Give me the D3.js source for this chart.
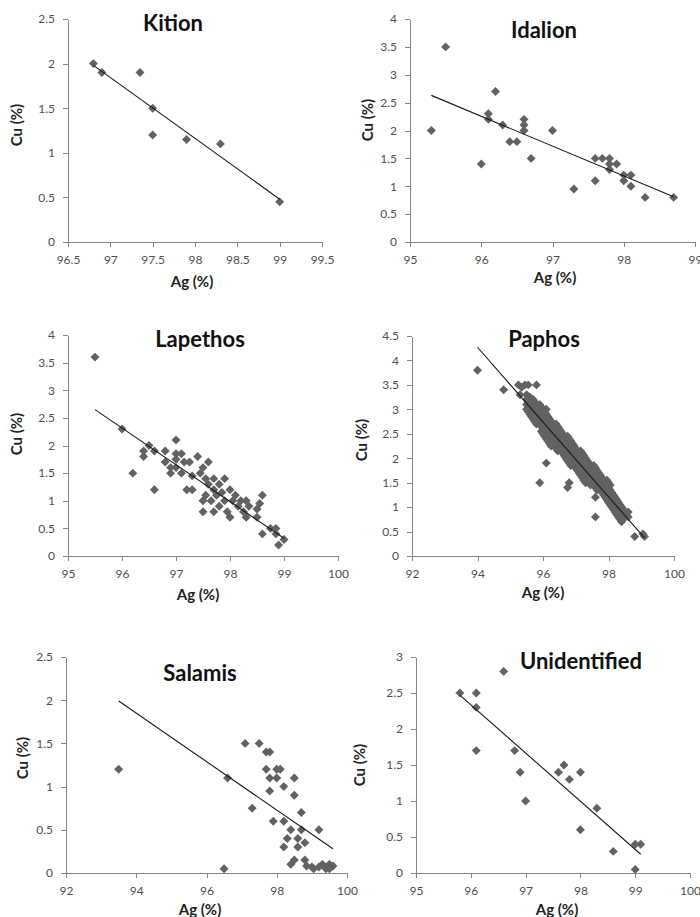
<!DOCTYPE html>
<html>
<head>
<meta charset="utf-8">
<script src="https://cdn.jsdelivr.net/npm/d3@7"></script>
<style>
  body { margin: 0; background: #fff; }
  svg { display: block; font-family: Lato, "Open Sans", sans-serif; }
  .axis path, .axis line { stroke: #868686; shape-rendering: crispEdges; }
  .axis text { fill: #505050; font-size: 12px; font-family: Lato, "Open Sans", sans-serif; }
  .title { font-size: 22px; font-weight: bold; fill: #111; }
  .alabel { font-size: 15px; font-weight: bold; fill: #222; }
</style>
</head>
<body>
<svg id="chart" width="700" height="917"></svg>
<script>

// Ag (%) , Cu (%)
var kition = [[96.8,2.0],[96.9,1.9],[97.35,1.9],[97.5,1.5],[97.5,1.2],[97.9,1.15],[98.3,1.1],[99.0,0.45]];
var kitionTrend = [[96.8,1.98],[99.0,0.48]];

var idalion = [[95.3,2.0],[95.5,3.5],[96.0,1.4],[96.1,2.3],[96.1,2.2],[96.2,2.7],[96.3,2.1],
  [96.4,1.8],[96.5,1.8],[96.6,2.2],[96.6,2.1],[96.6,2.0],[96.7,1.5],[97.0,2.0],[97.3,0.95],
  [97.6,1.5],[97.6,1.1],[97.7,1.5],[97.8,1.5],[97.8,1.4],[97.8,1.3],[97.9,1.4],[98.0,1.2],
  [98.0,1.1],[98.1,1.2],[98.1,1.0],[98.3,0.8],[98.7,0.8]];
var idalionTrend = [[95.3,2.63],[98.7,0.81]];

var lapethos = [[95.5,3.6],[96.0,2.3],[96.2,1.5],[96.4,1.9],[96.4,1.8],[96.5,2.0],[96.6,1.9],
  [96.6,1.2],[96.8,1.9],[96.8,1.7],[96.9,1.5],[96.9,1.6],[97.0,2.1],[97.0,1.85],[97.0,1.6],
  [97.0,1.75],[97.1,1.85],[97.1,1.5],[97.15,1.7],[97.25,1.7],[97.2,1.2],[97.3,1.2],[97.3,1.45],
  [97.4,1.8],[97.45,1.5],[97.5,1.6],[97.55,1.4],[97.55,1.1],[97.5,1.0],[97.5,0.8],[97.6,1.7],
  [97.6,1.3],[97.65,1.0],[97.7,1.4],[97.7,0.8],[97.7,1.2],[97.75,1.1],[97.8,1.3],[97.8,0.9],
  [97.85,1.15],[97.9,1.4],[97.9,1.0],[97.95,0.8],[98.0,1.2],[98.0,0.7],[98.05,1.0],[98.1,1.1],
  [98.15,0.9],[98.2,1.0],[98.25,0.8],[98.3,1.0],[98.3,0.7],[98.35,0.9],[98.5,0.85],[98.5,0.7],
  [98.55,0.95],[98.6,1.1],[98.6,0.4],[98.75,0.5],[98.85,0.4],[98.85,0.5],[98.9,0.2],[99.0,0.3]];
var lapethosTrend = [[95.5,2.65],[99.0,0.32]];

// Paphos: dense band, one row per Ag value with the Cu values in that column
var paphosCols = [
  [95.50,[3.0,3.1,3.2,3.3]],
  [95.55,[2.95,3.05,3.15,3.25]],
  [95.60,[2.9,3.0,3.1,3.2]],
  [95.65,[2.85,2.95,3.05,3.15]],
  [95.70,[2.8,2.9,3.0,3.1,3.2]],
  [95.75,[2.75,2.85,2.95,3.05,3.15]],
  [95.80,[2.7,2.8,2.9,3.0,3.1]],
  [95.85,[2.75,2.85,2.95,3.05]],
  [95.90,[2.7,2.8,2.9,3.0,3.1]],
  [95.95,[2.55,2.65,2.75,2.85,2.95,3.05]],
  [96.00,[2.5,2.6,2.7,2.8,2.9,3.0]],
  [96.05,[2.45,2.55,2.65,2.75,2.85,2.95]],
  [96.10,[2.4,2.5,2.6,2.7,2.8,2.9,3.0]],
  [96.15,[2.35,2.45,2.55,2.65,2.75,2.85]],
  [96.20,[2.3,2.4,2.5,2.6,2.7,2.8]],
  [96.25,[2.25,2.35,2.45,2.55,2.65,2.75]],
  [96.30,[2.3,2.4,2.5,2.6,2.7]],
  [96.35,[2.25,2.35,2.45,2.55,2.65]],
  [96.40,[2.2,2.3,2.4,2.5,2.6,2.7]],
  [96.45,[2.15,2.25,2.35,2.45,2.55,2.65]],
  [96.50,[2.2,2.3,2.4,2.5,2.6]],
  [96.55,[2.15,2.25,2.35,2.45,2.55]],
  [96.60,[2.1,2.2,2.3,2.4,2.5]],
  [96.65,[2.05,2.15,2.25,2.35,2.45]],
  [96.70,[2.0,2.1,2.2,2.3,2.4]],
  [96.75,[1.95,2.05,2.15,2.25,2.35,2.45]],
  [96.80,[1.9,2.0,2.1,2.2,2.3,2.4]],
  [96.85,[1.85,1.95,2.05,2.15,2.25,2.35]],
  [96.90,[1.9,2.0,2.1,2.2,2.3]],
  [96.95,[1.85,1.95,2.05,2.15,2.25]],
  [97.00,[1.8,1.9,2.0,2.1,2.2]],
  [97.05,[1.75,1.85,1.95,2.05,2.15]],
  [97.10,[1.7,1.8,1.9,2.0,2.1]],
  [97.15,[1.65,1.75,1.85,1.95,2.05,2.15]],
  [97.20,[1.6,1.7,1.8,1.9,2.0,2.1]],
  [97.25,[1.55,1.65,1.75,1.85,1.95,2.05]],
  [97.30,[1.5,1.6,1.7,1.8,1.9,2.0]],
  [97.35,[1.55,1.65,1.75,1.85,1.95]],
  [97.40,[1.5,1.6,1.7,1.8,1.9]],
  [97.45,[1.45,1.55,1.65,1.75,1.85]],
  [97.50,[1.5,1.6,1.7,1.8]],
  [97.55,[1.45,1.55,1.65,1.75,1.85]],
  [97.60,[1.4,1.5,1.6,1.7,1.8]],
  [97.65,[1.35,1.45,1.55,1.65,1.75]],
  [97.70,[1.4,1.5,1.6,1.7]],
  [97.75,[1.35,1.45,1.55,1.65]],
  [97.80,[1.3,1.4,1.5,1.6]],
  [97.85,[1.25,1.35,1.45,1.55]],
  [97.90,[1.2,1.3,1.4,1.5]],
  [97.95,[1.15,1.25,1.35,1.45,1.55]],
  [98.00,[1.1,1.2,1.3,1.4,1.5]],
  [98.05,[1.05,1.15,1.25,1.35,1.45]],
  [98.10,[1.0,1.1,1.2,1.3]],
  [98.15,[0.95,1.05,1.15,1.25]],
  [98.20,[0.9,1.0,1.1,1.2]],
  [98.25,[0.85,0.95,1.05,1.15]],
  [98.30,[0.8,0.9,1.0,1.1]],
  [98.35,[0.75,0.85,0.95,1.05]],
  [98.40,[0.7,0.8,0.9,1.0]],
  [98.45,[0.75,0.85,0.95]],
  [98.50,[0.8,0.9]],
  [98.60,[0.8,0.9]]
];
var paphosOut = [[94.0,3.8],[94.8,3.4],[95.25,3.5],[95.3,3.3],[95.35,3.45],[95.45,3.5],
  [95.55,3.5],[95.8,3.5],[95.6,3.25],[95.9,1.5],[96.1,1.9],[96.75,1.4],[96.8,1.5],
  [97.6,0.8],[97.6,1.2],[98.8,0.4],[99.05,0.45],[99.1,0.4]];
var paphosTrend = [[94.0,4.27],[99.1,0.37]];

var salamis = [[93.5,1.2],[96.5,0.05],[96.6,1.1],[97.1,1.5],[97.3,0.75],[97.5,1.5],[97.7,1.4],
  [97.8,1.4],[97.7,1.2],[97.8,1.1],[97.8,0.95],[97.9,0.6],[98.0,1.2],[98.1,1.2],[98.0,1.1],
  [98.2,1.0],[98.2,0.6],[98.2,0.3],[98.3,0.4],[98.4,0.5],[98.4,0.1],[98.5,1.1],[98.5,0.9],
  [98.5,0.15],[98.6,0.4],[98.6,0.3],[98.7,0.7],[98.7,0.5],[98.8,0.35],[98.8,0.15],[98.85,0.08],
  [99.0,0.07],[99.05,0.05],[99.2,0.5],[99.2,0.07],[99.3,0.1],[99.4,0.05],[99.5,0.1],
  [99.6,0.08],[99.5,0.05]];
var salamisTrend = [[93.5,1.99],[99.6,0.28]];

var unidentified = [[95.8,2.5],[96.1,2.5],[96.1,2.3],[96.1,1.7],[96.6,2.8],[96.8,1.7],[96.9,1.4],
  [97.0,1.0],[97.6,1.4],[97.7,1.5],[97.8,1.3],[98.0,1.4],[98.0,0.6],[98.3,0.9],[98.6,0.3],
  [99.0,0.4],[99.1,0.4],[99.0,0.05]];
var unidentifiedTrend = [[95.8,2.47],[99.1,0.26]];

var titles = ["Kition", "Idalion", "Lapethos", "Paphos", "Salamis", "Unidentified"];
var xTicks = [
  [96.5,97,97.5,98,98.5,99,99.5],
  [95,96,97,98,99],
  [95,96,97,98,99,100],
  [92,94,96,98,100],
  [92,94,96,98,100],
  [95,96,97,98,99,100]
];
var yTicks = [
  [0,0.5,1,1.5,2,2.5],
  [0,0.5,1,1.5,2,2.5,3,3.5,4],
  [0,0.5,1,1.5,2,2.5,3,3.5,4],
  [0,0.5,1,1.5,2,2.5,3,3.5,4,4.5],
  [0,0.5,1,1.5,2,2.5],
  [0,0.5,1,1.5,2,2.5,3]
];

var paphos = [];
paphosCols.forEach(function(c) {
  c[1].forEach(function(v) { paphos.push([c[0], v]); });
});
paphos = paphos.concat(paphosOut);

var seriesList = [kition, idalion, lapethos, paphos, salamis, unidentified];
var trendList = [kitionTrend, idalionTrend, lapethosTrend, paphosTrend, salamisTrend, unidentifiedTrend];

// plot boxes and label spots, in page pixels
var layout = [
  {l: 68,  r: 322, t: 19,  b: 242, tx: 173, ty: 31,  cx: 17,  cy: 125, ax: 192, ay: 287},
  {l: 410, r: 695, t: 19,  b: 242, tx: 544, ty: 38,  cx: 368, cy: 120, ax: 555, ay: 283},
  {l: 68,  r: 338, t: 335, b: 556, tx: 200, ty: 347, cx: 17,  cy: 434, ax: 198, ay: 600},
  {l: 412, r: 674, t: 336, b: 556, tx: 544, ty: 347, cx: 362, cy: 440, ax: 543, ay: 598},
  {l: 66,  r: 347, t: 657, b: 873, tx: 200, ty: 681, cx: 23,  cy: 758, ax: 200, ay: 915},
  {l: 416, r: 690, t: 657, b: 873, tx: 581, ty: 669, cx: 360, cy: 765, ax: 557, ay: 915}
];

var svg = d3.select("#chart");
var diamond = d3.symbol().type(d3.symbolSquare).size(40);

var Render = function(i) {
  var p = layout[i];
  var xt = xTicks[i], yt = yTicks[i];

  var x = d3.scaleLinear().domain([xt[0], xt[xt.length - 1]]).range([p.l, p.r]);
  var y = d3.scaleLinear().domain([yt[0], yt[yt.length - 1]]).range([p.b, p.t]);

  var g = svg.append("g");

  g.append("g")
    .attr("class", "axis")
    .attr("transform", "translate(" + p.l + ",0)")
    .call(d3.axisLeft(y).tickValues(yt).tickSize(5).tickSizeOuter(0).tickPadding(8)
      .tickFormat(function(d) { return String(d); }));

  g.append("g")
    .attr("class", "axis")
    .attr("transform", "translate(0," + p.b + ")")
    .call(d3.axisBottom(x).tickValues(xt).tickSize(5).tickSizeOuter(0).tickPadding(8)
      .tickFormat(function(d) { return String(d); }));

  g.selectAll("path.pt")
    .data(seriesList[i])
  .enter().append("path")
    .attr("class", "pt")
    .attr("d", diamond)
    .attr("transform", function(d) { return "translate(" + x(d[0]) + "," + y(d[1]) + ") rotate(45)"; })
    .attr("fill", "#626262");

  g.append("path")
    .datum(trendList[i])
    .attr("d", d3.line().x(function(d) { return x(d[0]); }).y(function(d) { return y(d[1]); }))
    .attr("fill", "none")
    .attr("stroke", "#1a1a1a")
    .attr("stroke-width", 1.1);

  g.append("text")
    .attr("class", "title")
    .attr("x", p.tx).attr("y", p.ty)
    .attr("text-anchor", "middle")
    .text(titles[i]);

  g.append("text")
    .attr("class", "alabel")
    .attr("x", p.ax).attr("y", p.ay)
    .attr("text-anchor", "middle")
    .text("Ag (%)");

  g.append("text")
    .attr("class", "alabel")
    .attr("transform", "translate(" + p.cx + "," + p.cy + ") rotate(-90)")
    .attr("dy", "0.35em")
    .attr("text-anchor", "middle")
    .text("Cu (%)");
};

for (var i = 0; i < titles.length; i++) Render(i);

</script>
</body>
</html>
